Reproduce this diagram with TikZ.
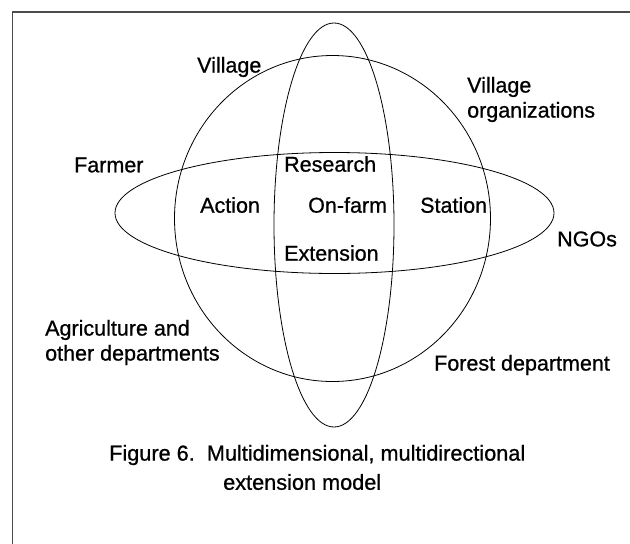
\documentclass[tikz,border=0pt]{standalone}
\usepackage{fontspec}
\setmainfont{Liberation Sans}[FakeBold=0.8]
\begin{document}
\begin{tikzpicture}[x=1pt,y=-1pt,
  outline/.style={draw=black,line width=0.8pt},
  frameline/.style={draw=black!70,line width=1.6pt},
  lbl/.style={inner sep=0pt,font=\fontsize{21.5}{25}\selectfont},
  captext/.style={inner sep=0pt,font=\fontsize{21.7}{27}\selectfont}]
\useasboundingbox (0,0) rectangle (630,544);
\coordinate (ftl) at (12.5,12);
\coordinate (ftr) at (630,12);
\coordinate (fbl) at (12.5,544);
\draw[frameline] (ftr) -- (ftl) -- (fbl);
% shapes
\draw[outline] (332.5,218.5) ellipse [x radius=158, y radius=163];
\draw[outline] (334,225) ellipse [x radius=60, y radius=202];
\draw[outline] (334.5,213) ellipse [x radius=219.5, y radius=60.5];
% labels
\node[lbl,anchor=west] (village) at (197,67) {Village};
\node[lbl,anchor=west,align=left] (vorg) at (467,99.5) {Village\\organizations};
\node[lbl,anchor=west] (farmer) at (74,165) {Farmer};
\node[lbl,anchor=west] (research) at (284,164) {Research};
\node[lbl,anchor=west] (action) at (200,205) {Action};
\node[lbl,anchor=west] (onfarm) at (308,205) {On-farm};
\node[lbl,anchor=west] (station) at (420,205) {Station};
\node[lbl,anchor=west] (extension) at (284,253) {Extension};
\node[lbl,anchor=west] (ngos) at (557,239) {NGOs};
\node[lbl,anchor=west,align=left] (agri) at (45,342.5) {Agriculture and\\other departments};
\node[lbl,anchor=west] (forest) at (434,365) {Forest department};
\node[captext,anchor=west] (cap1) at (109,455) {Figure 6.\ \ Multidimensional, multidirectional};
\node[captext,anchor=west] (cap2) at (223,482) {extension model};
\end{tikzpicture}
\end{document}
